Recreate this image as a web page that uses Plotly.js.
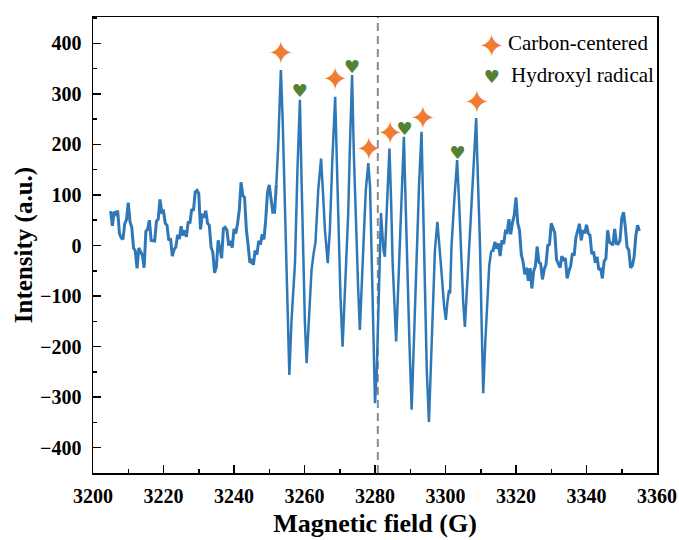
<!DOCTYPE html>
<html>
<head>
<meta charset="utf-8">
<script src="https://cdn.plot.ly/plotly-3.0.1.min.js"></script>
<style>html,body{margin:0;padding:0;background:#fff;}</style>
</head>
<body>
<div id="chart" style="width:679px;height:540px;"></div>
<script>
// Left noisy baseline: 3205.0 .. 3252.0 G, step 0.5 G
const leftStart = 3205.0;
const leftStep = 0.5;
const leftY = [68,39,67,62,69,24,15,12,43,51,85,47,36,-5,-11,-45,-5,-13,-19,-44,
  28,32,50,10,9,9,48,52,91,66,68,44,40,10,14,-21,-8,-3,21,13,
  38,20,30,17,47,44,72,69,106,109,103,32,60,58,69,44,40,-3,-14,-54,
  -42,10,-5,-25,34,36,30,0,9,-4,33,24,43,70,125,99,95,32,1,-34,
  -30,-38,-10,-18,9,2,22,12,51,105,120,92,66,66,120];

// Central hyperfine region
const midX = [3252.0,3252.5,3253.0,3253.3,3253.8,3254.5,3255.1,3255.7,3256.3,3257.3,3258.0,
  3258.7,3259.1,3259.6,3260.1,3260.6,3261.2,3262.0,3262.6,3263.1,3263.9,
  3264.7,3265.2,3265.8,3266.6,3267.2,3267.9,3268.7,3269.2,3269.6,3270.2,
  3270.8,3271.5,3272.4,3272.9,3273.5,3274.0,3274.6,3275.2,3275.7,3276.3,
  3276.9,3277.4,3278.1,3278.6,3279.1,3279.5,3280.0,3280.5,3280.9,3281.7,
  3282.4,3282.8,3283.4,3284.1,3284.6,3285.0,3286.0,3286.5,3287.1,3287.7,
  3288.2,3288.7,3289.2,3289.8,3290.4,3291.1,3291.8,3292.5,3293.2,3293.7,
  3294.2,3294.7,3295.3,3295.9,3296.5,3297.0,3297.7,3298.3,3298.9,3299.6,
  3300.1,3300.5,3301.0,3301.3,3301.7,3302.5,3303.3,3303.9,3304.6,3305.0,
  3305.5,3306.2,3306.9,3307.8,3308.7,3309.2,3309.8,3310.3,3310.7,3311.3,
  3311.9,3312.4,3313.0];
const midY = [120,190,290,347,250,64,-120,-256,-150,-35,150,
  288,150,-35,-150,-233,-140,-48,-15,5,110,
  172,110,31,-35,31,170,294,160,31,-100,
  -200,-80,64,200,337,180,31,-80,-167,-80,
  31,110,163,116,-35,-180,-312,-250,-134,64,
  -9,-22,80,192,80,-35,-190,-100,-2,110,
  215,80,-68,-200,-325,-170,-2,120,225,80,
  -101,-250,-349,-230,-101,-10,47,0,-55,-120,
  -147,-115,-88,-95,-2,90,169,80,-42,-110,
  -161,-70,11,130,252,130,-2,-170,-292,-190,
  -101,-40,-10];

// Right noisy baseline: 3313.0 .. 3355.0 G, step 0.5 G
const rightStart = 3313.0;
const rightStep = 0.5;
const rightY = [-10,-10,7,-6,4,-21,10,3,28,26,52,22,45,60,95,44,30,-18,-32,-57,
  -44,-70,-45,-85,-51,-41,-2,-33,-36,-67,-47,-38,0,2,44,34,25,-28,-36,-44,
  -21,-30,-25,-65,-51,-41,-15,-20,16,31,43,10,30,24,41,24,20,-17,-12,-34,
  -22,-48,-45,-65,-31,-26,30,7,4,1,33,4,3,10,54,66,38,-3,-9,-44,
  -40,-23,20,40,29];

// Annotated peaks
const carbonX = [3253.3,3268.7,3278.3,3284.3,3293.6,3308.9];
const carbonY = [375,323,185,217,247,277];
const hydroxylX = [3258.7,3273.5,3288.4,3303.4];
const hydroxylY = [303,351,227,181];

const centerField = 3280.8;

const blue = '#2f78b7';
const orange = '#f07c34';
const green = '#548235';
const serif = 'Liberation Serif, Times New Roman, serif';

const noisyLine = {color: blue, width: 3};
const peakLine = {color: blue, width: 2.5};
const traces = [
  {type:'scatter', mode:'lines', x0: leftStart, dx: leftStep, y: leftY, line: noisyLine, showlegend:false, hoverinfo:'skip'},
  {type:'scatter', mode:'lines', x: midX, y: midY, line: peakLine, showlegend:false, hoverinfo:'skip'},
  {type:'scatter', mode:'lines', x0: rightStart, dx: rightStep, y: rightY, line: noisyLine, showlegend:false, hoverinfo:'skip'},
  {type:'scatter', mode:'text', x: carbonX, y: carbonY, text: carbonX.map(()=>'✦'),
   textposition:'middle center', textfont:{family:'DejaVu Sans', size:32, color: orange}, showlegend:false},
  {type:'scatter', mode:'text', x: hydroxylX, y: hydroxylY, text: hydroxylX.map(()=>'♥'),
   textposition:'middle center', textfont:{family:'DejaVu Sans', size:18, color: green}, showlegend:false},
  // manual legend symbols on overlay axes (0..1)
  {type:'scatter', mode:'text', x:[0.707], y:[0.93], xaxis:'x2', yaxis:'y2', text:['✦'],
   textposition:'middle center', textfont:{family:'DejaVu Sans', size:32, color: orange}, showlegend:false, hoverinfo:'skip'},
  {type:'scatter', mode:'text', x:[0.707], y:[0.866], xaxis:'x2', yaxis:'y2', text:['♥'],
   textposition:'middle center', textfont:{family:'DejaVu Sans', size:18, color: green}, showlegend:false, hoverinfo:'skip'}
];

const axisCommon = {
  showline:true, linecolor:'#000', linewidth:1.5, mirror:true,
  showgrid:false, zeroline:false,
  ticks:'inside', ticklen:8, tickwidth:1.5, tickcolor:'#000',
  tickfont:{family: serif, size:20, color:'#000', weight:'bold'}
};

const layout = {
  width:679, height:540,
  margin:{l:93, r:22, t:17, b:67},
  paper_bgcolor:'#fff', plot_bgcolor:'#fff',
  showlegend:false,
  xaxis: Object.assign({}, axisCommon, {
    range:[3200,3360], tick0:3200, dtick:20,
    ticklabelstandoff:4,
    minor:{ticks:'inside', ticklen:4, tickwidth:1.5, tickcolor:'#000', dtick:10, showgrid:false},
    title:{text:'Magnetic field (G)', font:{family: serif, size:26, color:'#000', weight:'bold'}, standoff:8}
  }),
  yaxis: Object.assign({}, axisCommon, {
    range:[-450,452], tick0:0, dtick:100,
    ticklabelstandoff:6,
    minor:{ticks:'inside', ticklen:4, tickwidth:1.5, tickcolor:'#000', dtick:50, showgrid:false},
    title:{text:'Intensity (a.u.)', font:{family: serif, size:25, color:'#000', weight:'bold'}, standoff:0}
  }),
  xaxis2:{overlaying:'x', range:[0,1], visible:false, fixedrange:true},
  yaxis2:{overlaying:'y', range:[0,1], visible:false, fixedrange:true},
  shapes:[{type:'line', xref:'x', yref:'paper', x0:centerField, x1:centerField, y0:0, y1:1,
    line:{color:'#8a8a8a', width:2, dash:'8px,5px'}, layer:'below'}],
  annotations:[
    {xref:'paper', yref:'paper', x:0.733, y:0.944, xanchor:'left', yanchor:'middle', showarrow:false,
     text:'Carbon-centered', font:{family: serif, size:21, color:'#000'}},
    {xref:'paper', yref:'paper', x:0.738, y:0.872, xanchor:'left', yanchor:'middle', showarrow:false,
     text:'Hydroxyl radical', font:{family: serif, size:21, color:'#000'}}
  ]
};

Plotly.newPlot('chart', traces, layout, {displayModeBar:false, staticPlot:true});
</script>
</body>
</html>
